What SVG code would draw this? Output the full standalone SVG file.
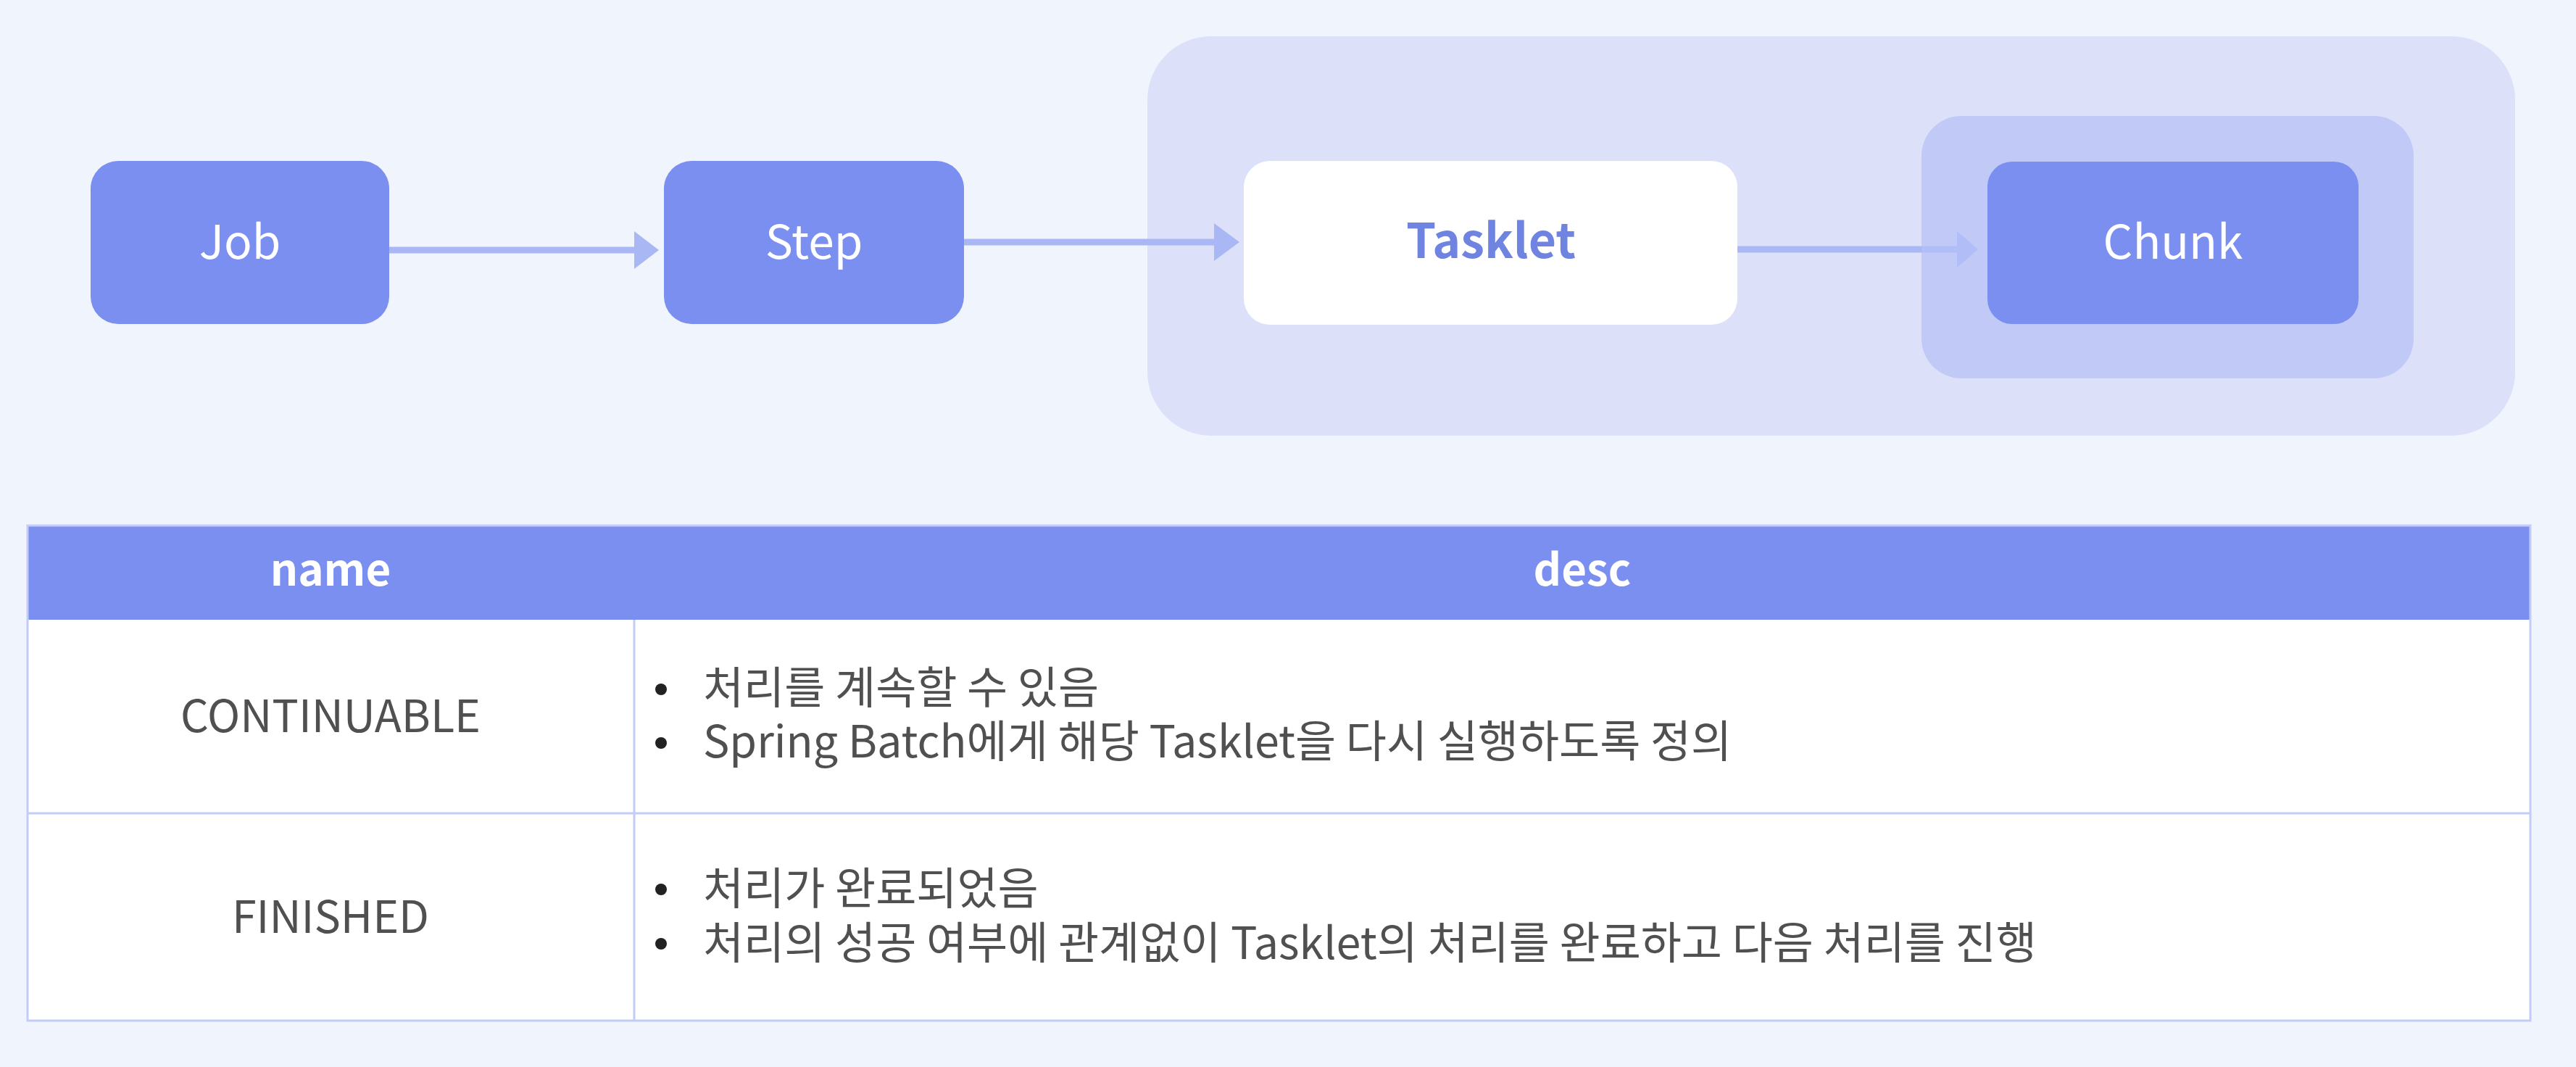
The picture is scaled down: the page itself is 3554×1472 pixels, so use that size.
<svg xmlns="http://www.w3.org/2000/svg" width="3554" height="1472" viewBox="0 0 3554 1472">
  <defs>
    <style>
      .txt { font-family: "Noto Sans CJK KR", "Noto Sans", sans-serif; }
      .node { fill: #7a8ff0; }
      .nodeLabel { fill: #ffffff; font-size: 64px; text-anchor: middle; }
      .conn { stroke: #a9b8f5; stroke-width: 9; fill: none; }
      .head { fill: #a9b8f5; }
      .hdr { fill: #ffffff; font-size: 60px; font-weight: bold; text-anchor: middle; }
      .name { fill: #505050; font-size: 61px; text-anchor: middle; }
      .body { fill: #505050; font-size: 61px; }
      .bullet { fill: #222222; }
      .grid { stroke: #c3ccf6; stroke-width: 3; fill: none; }
    </style>
  </defs>
  <rect x="0" y="0" width="3554" height="1472" fill="#f0f4fd"/>

  <g id="tasklet-container">
    <rect x="1583" y="50" width="1887" height="551" rx="88" ry="88" fill="#dce1f9"/>
  </g>

  <g id="connectors">
    <line class="conn" x1="537" y1="345" x2="880" y2="345"/>
    <polygon class="head" points="875,319 909,345 875,371"/>
    <line class="conn" x1="1330" y1="334" x2="1680" y2="334"/>
    <polygon class="head" points="1675,308 1710,334 1675,360"/>
    <line class="conn" x1="2397" y1="344" x2="2704" y2="344"/>
    <polygon class="head" points="2700,319 2729,344 2700,369"/>
  </g>

  <g id="chunk-container">
    <rect x="2651" y="160" width="679" height="362" rx="55" ry="55" fill="#b5bff6" fill-opacity="0.7"/>
  </g>

  <g id="job">
    <rect class="node" x="125" y="222" width="412" height="225" rx="38" ry="38"/>
    <text class="txt nodeLabel" x="331" y="357">Job</text>
  </g>
  <g id="step">
    <rect class="node" x="916" y="222" width="414" height="225" rx="38" ry="38"/>
    <text class="txt nodeLabel" x="1123" y="357">Step</text>
  </g>
  <g id="tasklet">
    <rect x="1716" y="222" width="681" height="226" rx="36" ry="36" fill="#ffffff"/>
    <text class="txt" x="2057" y="356" font-size="66" font-weight="bold" fill="#6f84e0" text-anchor="middle">Tasklet</text>
  </g>
  <g id="chunk">
    <rect class="node" x="2742" y="223" width="512" height="224" rx="34" ry="34" fill="#778cef"/>
    <text class="txt nodeLabel" x="2998" y="357">Chunk</text>
  </g>

  <g id="table">
    <rect x="38" y="725" width="3453" height="683" fill="#ffffff"/>
    <rect x="38" y="725" width="3453" height="130" fill="#7a8ff0"/>
    <line class="grid" x1="38" y1="1122" x2="3491" y2="1122"/>
    <line class="grid" x1="875" y1="855" x2="875" y2="1408"/>
    <rect class="grid" x="38" y="725" width="3453" height="683"/>
    <text class="txt hdr" x="456" y="808">name</text>
    <text class="txt hdr" x="2183" y="808">desc</text>

    <text class="txt name" x="456" y="1010">CONTINUABLE</text>
    <text class="txt name" x="456" y="1287" font-size="60">FINISHED</text>

    <circle class="bullet" cx="912" cy="951" r="8"/>
    <text class="txt body" x="970" y="971">처리를 계속할 수 있음</text>
    <circle class="bullet" cx="912" cy="1025" r="8"/>
    <text class="txt body" x="970" y="1045">Spring Batch에게 해당 Tasklet을 다시 실행하도록 정의</text>

    <circle class="bullet" cx="912" cy="1227" r="8"/>
    <text class="txt body" x="970" y="1248">처리가 완료되었음</text>
    <circle class="bullet" cx="912" cy="1302" r="8"/>
    <text class="txt body" x="970" y="1323">처리의 성공 여부에 관계없이 Tasklet의 처리를 완료하고 다음 처리를 진행</text>
  </g>
</svg>
